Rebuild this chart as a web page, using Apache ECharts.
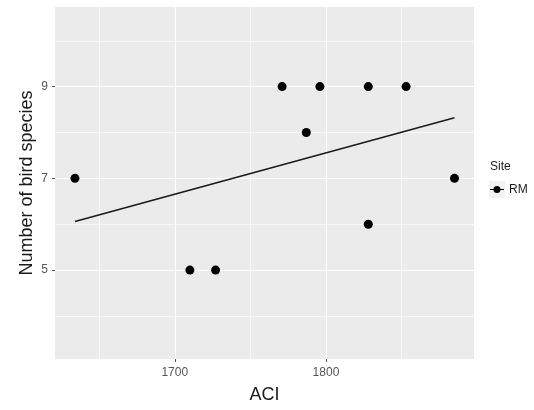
<!DOCTYPE html>
<html>
<head>
<meta charset="utf-8">
<script src="https://cdn.jsdelivr.net/npm/echarts@6/dist/echarts.min.js"></script>
<style>
html,body{margin:0;padding:0;background:#fff;}
#chart{width:534px;height:410px;}
</style>
</head>
<body>
<div id="chart"></div>
<script>
// Data
const aci     = [1634, 1710, 1727, 1771, 1787, 1796, 1828, 1828, 1853, 1885];
const species = [7, 5, 5, 9, 8, 9, 9, 6, 9, 7];
// fitted line end points
const fitX = [1634, 1885];
const fitY = [6.06, 8.32];
// ticks
const xTickLabels = [1700, 1800];
const xMinorGrid  = [1650, 1750, 1850];
const yTickLabels = [5, 7, 9];
const yMinorGrid  = [4, 6, 8, 10];
const siteName = 'RM';

const FONT = 'Liberation Sans, Arial, sans-serif';
const chart = echarts.init(document.getElementById('chart'), null, {renderer: 'canvas'});

const gridLines = [];
xTickLabels.forEach(v => gridLines.push({xAxis: v, lineStyle: {width: 1.1}}));
xMinorGrid.forEach(v => gridLines.push({xAxis: v, lineStyle: {width: 0.6}}));
yTickLabels.forEach(v => gridLines.push({yAxis: v, lineStyle: {width: 1.1}}));
yMinorGrid.forEach(v => gridLines.push({yAxis: v, lineStyle: {width: 0.6}}));

chart.setOption({
  animation: false,
  backgroundColor: '#ffffff',
  textStyle: {fontFamily: FONT},
  grid: {
    left: 55, top: 7, width: 419, height: 352,
    show: true, backgroundColor: '#EBEBEB', borderWidth: 0
  },
  xAxis: {
    type: 'value', min: 1620.8, max: 1897.9,
    name: 'ACI', nameLocation: 'middle', nameGap: 27, nameMoveOverlap: false,
    nameTextStyle: {fontSize: 18, color: '#1a1a1a', fontFamily: FONT},
    axisLine: {show: false, onZero: false},
    axisTick: {show: true, length: 3, customValues: xTickLabels, lineStyle: {color: '#555', width: 1}},
    axisLabel: {customValues: xTickLabels, margin: 8, fontSize: 12, color: '#555', fontFamily: FONT,
                formatter: v => String(v)},
    splitLine: {show: false}
  },
  yAxis: {
    type: 'value', min: 3.061, max: 10.736,
    name: 'Number of bird species', nameLocation: 'middle', nameGap: 19, nameRotate: 90,
    nameMoveOverlap: false,
    nameTextStyle: {fontSize: 18, color: '#1a1a1a', fontFamily: FONT},
    axisLine: {show: false, onZero: false},
    axisTick: {show: true, length: 3, customValues: yTickLabels, lineStyle: {color: '#555', width: 1}},
    axisLabel: {customValues: yTickLabels, margin: 7, fontSize: 12, color: '#555', fontFamily: FONT,
                formatter: v => String(v)},
    splitLine: {show: false}
  },
  legend: {
    left: 490, top: 182, padding: 0, itemGap: 0,
    itemWidth: 14, itemHeight: 7,
    textStyle: {fontSize: 12, color: '#1a1a1a', fontFamily: FONT, lineHeight: 15},
    data: [{name: siteName, icon: 'path://M0,2.9H14V4.1H0Z M7,0A3.5,3.5,0,1,1,7,7A3.5,3.5,0,1,1,7,0Z',
            itemStyle: {color: '#000', opacity: 1}}]
  },
  graphic: [
    {type: 'rect', left: 489, top: 181, z: -1, shape: {width: 16, height: 17}, style: {fill: '#F2F2F2'}},
    {type: 'text', left: 490, top: 161, style: {text: 'Site', fontSize: 12, fill: '#1a1a1a', fontFamily: FONT}}
  ],
  series: [
    {
      type: 'line', name: 'grid', data: [], silent: true, z: 1,
      markLine: {
        silent: true, symbol: ['none', 'none'], z: 1, animation: false,
        label: {show: false},
        lineStyle: {color: '#ffffff', type: 'solid'},
        emphasis: {disabled: true},
        data: gridLines
      }
    },
    {
      type: 'line', name: 'fit', z: 3, silent: true,
      data: fitX.map((x, i) => [x, fitY[i]]),
      showSymbol: false, symbol: 'none',
      lineStyle: {color: '#1a1a1a', width: 1.6}
    },
    {
      type: 'scatter', name: siteName, z: 4,
      data: aci.map((x, i) => [x, species[i]]),
      symbol: 'circle', symbolSize: 9,
      itemStyle: {color: '#000000', opacity: 1}
    }
  ]
});
</script>
</body>
</html>
